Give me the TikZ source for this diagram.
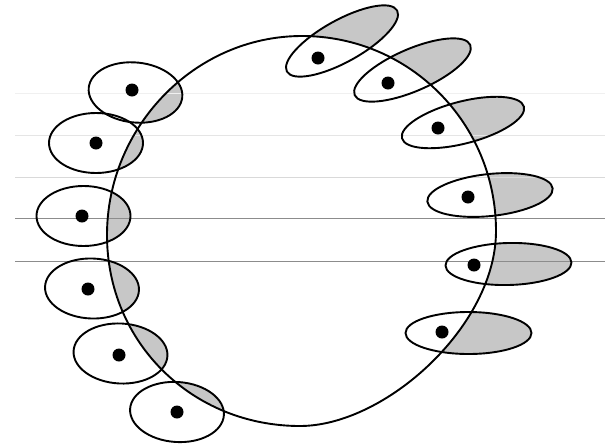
\documentclass[tikz,border=0pt]{standalone}
\begin{document}
\begin{tikzpicture}[x=1pt,y=-1pt,
  outline/.style={line width=1.9pt,black},
  shade/.style={fill=black!22},
  spot/.style={fill=black},
  scan/.style={line width=0.8pt}]
\useasboundingbox (0,0) rectangle (605,445);
\def\bigpath{(302,36) .. controls (409.7,36) and (496,123.3) .. (496,231)
  .. controls (496,326) and (385,426) .. (300,426)
  .. controls (192.3,426) and (107,342.7) .. (107,235)
  .. controls (107,127.3) and (194.3,36) .. (302,36) -- cycle}
% left ellipses: centre, angle
\coordinate (l1) at (135.5,92.5);
\coordinate (l2) at (96,143);
\coordinate (l3) at (83.5,216);
\coordinate (l4) at (92,288.5);
\coordinate (l5) at (120.5,353.5);
\coordinate (l6) at (177,412);
\coordinate (d1) at (132,90);
\coordinate (d2) at (96,143);
\coordinate (d3) at (82,216);
\coordinate (d4) at (88,289);
\coordinate (d5) at (119,355);
\coordinate (d6) at (177,412);
% right ellipses
\coordinate (r1) at (342,41);
\coordinate (r2) at (412.5,70);
\coordinate (r3) at (463,122.5);
\coordinate (r4) at (490,195);
\coordinate (r5) at (508.5,264);
\coordinate (r6) at (468.5,333);
\coordinate (e1) at (318,58);
\coordinate (e2) at (388,83);
\coordinate (e3) at (438,128);
\coordinate (e4) at (468,197);
\coordinate (e5) at (474,265);
\coordinate (e6) at (442,332);
% shading inside (left)
\begin{scope}
  \clip \bigpath;
  \foreach \c/\a in {l1/-6,l2/0,l3/0,l4/-2,l5/-3,l6/-4}
    \fill[shade,rotate around={\a:(\c)}] (\c) ellipse [x radius=47, y radius=30];
\end{scope}
% shading outside (right)
\begin{scope}[even odd rule]
  \clip (-10,-10) rectangle (615,455) \bigpath;
  \foreach \c/\a in {r1/29,r2/23.5,r3/14.5,r4/6,r5/1.4,r6/0}
    \fill[shade,rotate around={\a:(\c)}] (\c) ellipse [x radius=63, y radius=21];
\end{scope}
% scan lines
\coordinate (s1a) at (15,93);  \coordinate (s1b) at (605,93);
\coordinate (s2a) at (15,135); \coordinate (s2b) at (605,135);
\coordinate (s3a) at (15,177); \coordinate (s3b) at (605,177);
\coordinate (s4a) at (15,218); \coordinate (s4b) at (605,218);
\coordinate (s5a) at (15,261); \coordinate (s5b) at (605,261);
\draw[scan,black!6] (s1a) -- (s1b);
\draw[scan,black!10] (s2a) -- (s2b);
\draw[scan,black!15] (s3a) -- (s3b);
\draw[scan,black!45] (s4a) -- (s4b);
\draw[scan,black!45] (s5a) -- (s5b);
% outlines
\draw[outline] \bigpath;
\foreach \c/\a in {l1/-6,l2/0,l3/0,l4/-2,l5/-3,l6/-4}
  \draw[outline,rotate around={\a:(\c)}] (\c) ellipse [x radius=47, y radius=30];
\foreach \c/\a in {r1/29,r2/23.5,r3/14.5,r4/6,r5/1.4,r6/0}
  \draw[outline,rotate around={\a:(\c)}] (\c) ellipse [x radius=63, y radius=21];
\foreach \d in {d1,d2,d3,d4,d5,d6,e1,e2,e3,e4,e5,e6}
  \fill[spot] (\d) circle [radius=6.5];
\end{tikzpicture}
\end{document}
